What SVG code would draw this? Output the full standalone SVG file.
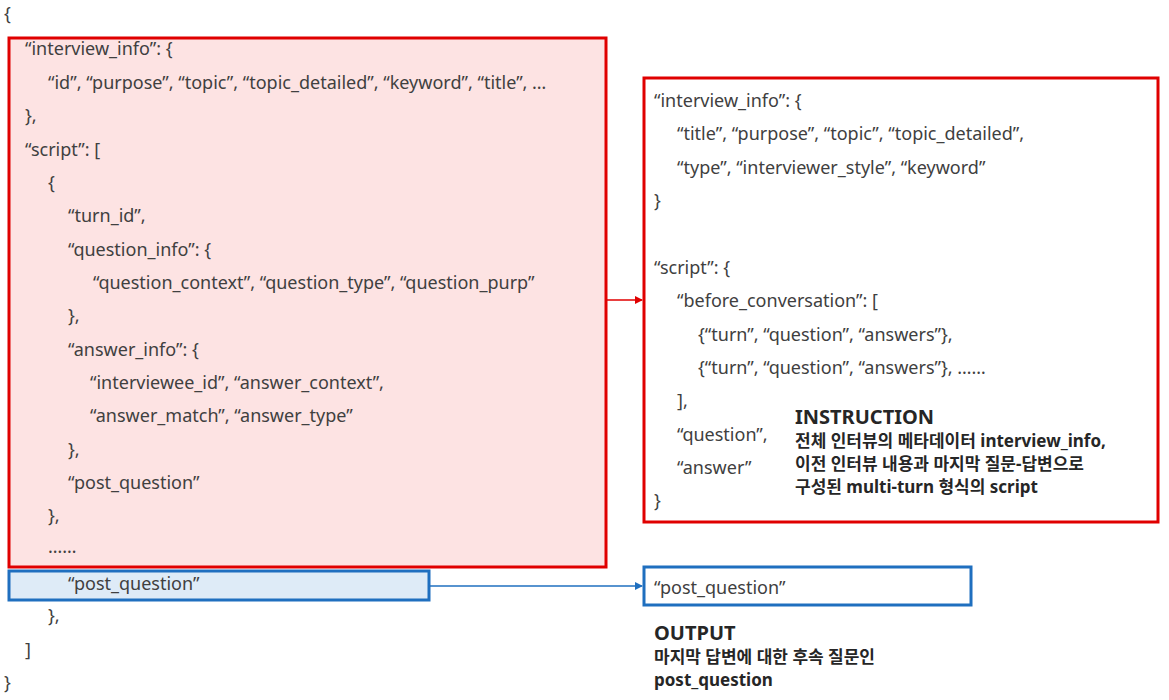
<svg xmlns="http://www.w3.org/2000/svg" width="1169" height="700" viewBox="0 0 1169 700">
<style>
text{font-family:"Noto Sans","Noto Sans CJK KR",sans-serif;font-size:18px;fill:#404040}
.h{font-weight:bold;font-size:20px;fill:#262626}
.k{font-weight:bold;font-size:17px;fill:#262626}
</style>
<defs>
<marker id="ar" markerWidth="8" markerHeight="8" refX="7" refY="4" orient="auto" markerUnits="userSpaceOnUse"><path d="M0,0L8,4L0,8z" fill="#e00000"/></marker>
<marker id="ab" markerWidth="8" markerHeight="8" refX="7" refY="4" orient="auto" markerUnits="userSpaceOnUse"><path d="M0,0L8,4L0,8z" fill="#1f6fbf"/></marker>
</defs>
<rect width="1169" height="700" fill="#fff"/>
<g id="input_box"><rect x="9" y="38" width="597" height="529" fill="#fde3e3" stroke="#e00000" stroke-width="3"/></g>
<g id="input_post"><rect x="9" y="571" width="420" height="29" fill="#deebf7" stroke="#1f6fbf" stroke-width="3"/></g>
<g id="instruction_box"><rect x="644" y="78" width="514" height="444" fill="#fff" stroke="#e00000" stroke-width="3"/></g>
<g id="output_box"><rect x="644" y="567" width="327" height="38" fill="#fff" stroke="#1f6fbf" stroke-width="3"/></g>
<g id="connectors">
<line x1="606" y1="300" x2="642" y2="300" stroke="#e00000" stroke-width="1.5" marker-end="url(#ar)"/>
<line x1="429" y1="586" x2="642" y2="586" stroke="#1f6fbf" stroke-width="1.5" marker-end="url(#ab)"/>
</g>
<g id="left_text">
<text x="4" y="20">{</text>
<text x="25" y="55">“interview_info”: {</text>
<text x="48" y="89">“id”, “purpose”, “topic”, “topic_detailed”, “keyword”, “title”, …</text>
<text x="25" y="122">},</text>
<text x="25" y="156">“script”: [</text>
<text x="48" y="189">{</text>
<text x="68" y="222">“turn_id”,</text>
<text x="68" y="256">“question_info”: {</text>
<text x="93" y="289">“question_context”, “question_type”, “question_purp”</text>
<text x="68" y="322">},</text>
<text x="68" y="356">“answer_info”: {</text>
<text x="90" y="389">“interviewee_id”, “answer_context”,</text>
<text x="90" y="422">“answer_match”, “answer_type”</text>
<text x="68" y="456">},</text>
<text x="68" y="489">“post_question”</text>
<text x="48" y="522">},</text>
<text x="48" y="553">……</text>
<text x="68" y="590">“post_question”</text>
<text x="48" y="622">},</text>
<text x="25" y="656">]</text>
<text x="4" y="689">}</text>
</g>
<g id="right_text">
<text x="654" y="107">“interview_info”: {</text>
<text x="677" y="140">“title”, “purpose”, “topic”, “topic_detailed”,</text>
<text x="677" y="174">“type”, “interviewer_style”, “keyword”</text>
<text x="654" y="207">}</text>
<text x="654" y="274">“script”: {</text>
<text x="677" y="307">“before_conversation”: [</text>
<text x="698" y="341">{“turn”, “question”, “answers”},</text>
<text x="698" y="374">{“turn”, “question”, “answers”}, ……</text>
<text x="677" y="407">],</text>
<text x="677" y="441">“question”,</text>
<text x="677" y="474">“answer”</text>
<text x="654" y="507">}</text>
<text class="h" x="795" y="424">INSTRUCTION</text>
<text class="k" x="795" y="447">전체 인터뷰의 메타데이터 interview_info,</text>
<text class="k" x="795" y="470">이전 인터뷰 내용과 마지막 질문-답변으로</text>
<text class="k" x="795" y="493">구성된 multi-turn 형식의 script</text>
<text x="654" y="594">“post_question”</text>
<text class="h" x="654" y="640">OUTPUT</text>
<text class="k" x="654" y="663">마지막 답변에 대한 후속 질문인</text>
<text class="k" x="654" y="686">post_question</text>
</g>
</svg>
